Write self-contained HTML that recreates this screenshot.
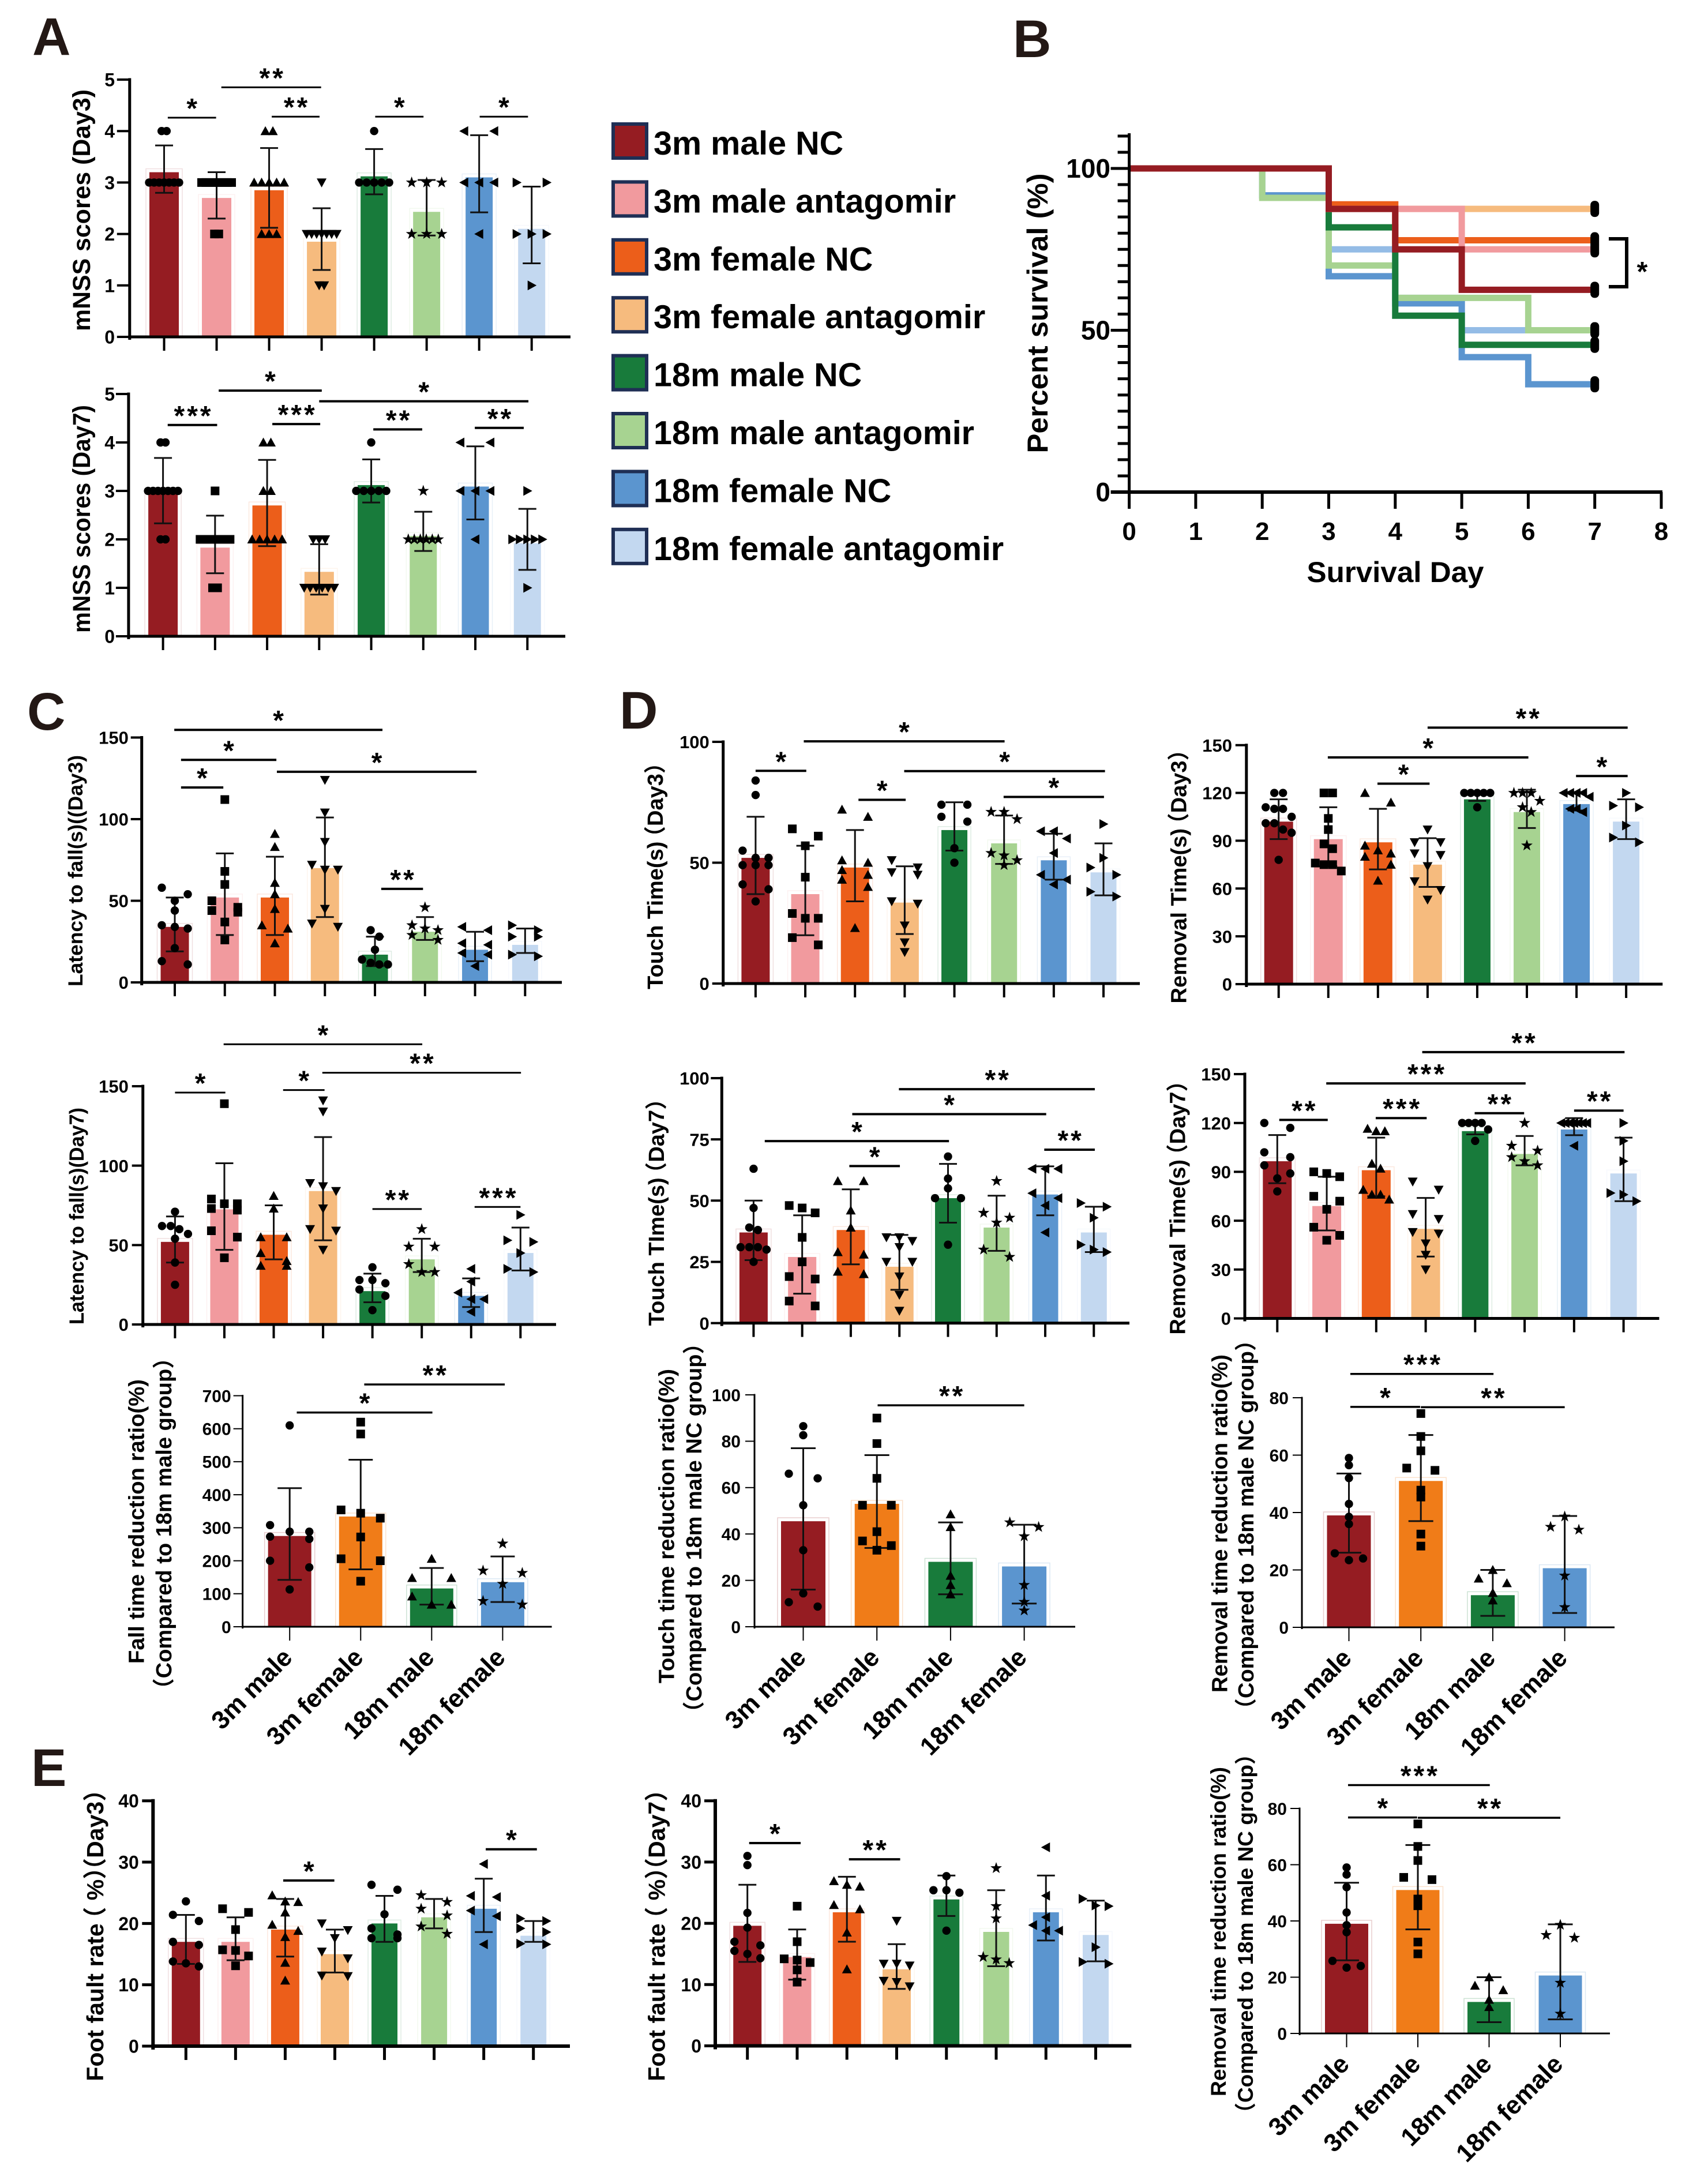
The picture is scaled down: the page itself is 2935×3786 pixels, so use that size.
<!DOCTYPE html>
<html lang="en">
<head>
<meta charset="utf-8">
<title>Multi-panel behavioural figure</title>
<style>
html,body{margin:0;padding:0;background:#fff;}
svg{display:block;}
text{font-family:"Liberation Sans","Noto Sans CJK SC",sans-serif;font-weight:700;fill:#000;}
.panel{fill:#231815;font-size:92px;}
.legend{font-size:57.5px;}
</style>
</head>
<body>
<svg id="fig" xmlns="http://www.w3.org/2000/svg" width="2935" height="3786" viewBox="0 0 2935 3786">
  <rect x="0" y="0" width="2935" height="3786" fill="#fff"/>
  <text class="panel" x="56" y="95">A</text>
  <text class="panel" x="1756" y="99">B</text>
  <text class="panel" x="47" y="1265">C</text>
  <text class="panel" x="1074" y="1263">D</text>
  <text class="panel" x="54" y="3096">E</text>

  <g>
    <g>
      <rect x="1063" y="215" width="58" height="59" fill="#951C22" stroke="#1F2F55" stroke-width="6"/>
      <text class="legend" x="1133" y="268">3m male NC</text>
    </g>
    <g>
      <rect x="1063" y="315.4" width="58" height="59" fill="#F19A9E" stroke="#1F2F55" stroke-width="6"/>
      <text class="legend" x="1133" y="368.4">3m male antagomir</text>
    </g>
    <g>
      <rect x="1063" y="415.8" width="58" height="59" fill="#EC5E1A" stroke="#1F2F55" stroke-width="6"/>
      <text class="legend" x="1133" y="468.8">3m female NC</text>
    </g>
    <g>
      <rect x="1063" y="516.2" width="58" height="59" fill="#F6BB7E" stroke="#1F2F55" stroke-width="6"/>
      <text class="legend" x="1133" y="569.2">3m female antagomir</text>
    </g>
    <g>
      <rect x="1063" y="616.6" width="58" height="59" fill="#187B3B" stroke="#1F2F55" stroke-width="6"/>
      <text class="legend" x="1133" y="669.6">18m male NC</text>
    </g>
    <g>
      <rect x="1063" y="717" width="58" height="59" fill="#A7D391" stroke="#1F2F55" stroke-width="6"/>
      <text class="legend" x="1133" y="770">18m male antagomir</text>
    </g>
    <g>
      <rect x="1063" y="817.4" width="58" height="59" fill="#5B95CF" stroke="#1F2F55" stroke-width="6"/>
      <text class="legend" x="1133" y="870.4">18m female NC</text>
    </g>
    <g>
      <rect x="1063" y="917.8" width="58" height="59" fill="#C3D8F0" stroke="#1F2F55" stroke-width="6"/>
      <text class="legend" x="1133" y="970.8">18m female antagomir</text>
    </g>
  </g>
</svg>

<script>
// ---------- shared categories ----------
const fourGroupLabels = ['3m male', '3m female', '18m male', '18m female'];

// ---------- A: mNSS day 3 ----------
const a1Ticks = [0, 1, 2, 3, 4, 5];
const a1Means = [3.2, 2.7, 2.85, 1.85, 3.12, 2.43, 3.1, 2.1];
const a1Hi = [3.72, 3.2, 3.67, 2.5, 3.65, 3.05, 3.92, 2.92];
const a1Lo = [2.8, 2.3, 2.12, 1.3, 2.77, 1.97, 2.42, 1.43];
const a1Points = [
  [4,4,3,3,3,3,3,3,3],
  [3,3,3,3,3,3,3,3,2,2],
  [4,4,3,3,3,3,3,2,2,2],
  [3,2,2,2,2,2,2,2,1,1],
  [4,3,3,3,3,3],
  [3,3,3,2,2,2],
  [4,4,3,3,3,2],
  [3,3,2,2,2,1]
];
const a1Brackets = [[0.07,0.99,4.26,'*'],[1.09,2.99,4.85,'**'],[2.05,2.96,4.28,'**'],[4.02,4.94,4.28,'*'],[6.01,6.93,4.28,'*']];

// ---------- A: mNSS day 7 ----------
const a2Ticks = [0, 1, 2, 3, 4, 5];
const a2Means = [2.95, 1.83, 2.7, 1.33, 3.12, 2.07, 3.09, 1.92];
const a2Hi = [3.68, 2.49, 3.64, 1.9, 3.65, 2.57, 3.92, 2.63];
const a2Lo = [2.33, 1.3, 1.86, 0.86, 2.76, 1.76, 2.41, 1.37];
const a2Points = [
  [4,4,3,3,3,3,3,3,3,2,2],
  [3,2,2,2,2,2,2,2,1,1],
  [4,4,3,3,2,2,2,2,2],
  [2,2,2,1,1,1,1,1,1],
  [4,3,3,3,3,3],
  [3,2,2,2,2,2,2],
  [4,4,3,3,3,2],
  [3,2,2,2,2,2,1]
];
const a2Brackets = [[0.09,1.04,4.36,'***'],[1.07,3.05,5.07,'*'],[2.1,3.02,4.38,'***'],[3,7.02,4.85,'*'],[4.04,4.98,4.27,'**'],[5.99,6.93,4.3,'**']];

// ---------- C: latency day 3 ----------
const c1Ticks = [0, 50, 100, 150];
const c1Means = [34, 52, 52, 70, 17, 31, 20, 23];
const c1Hi = [52, 79, 77, 101, 28, 40, 31, 33];
const c1Lo = [19, 29, 29, 40, 10, 26, 13, 18];
const c1Points = [
  [58,54,50,44,35,34,33,21,13,11],
  [112,68,60,50,46,44,43,37,26],
  [91,83,61,54,45,35,33,24],
  [124,104,86,72,69,69,45,36,34],
  [32,28,20,14,12,11,11],
  [46,35,33,32,29,26],
  [34,32,24,23,18,17,10],
  [35,32,28,28,17,16]
];
const c1Brackets = [[-0.01,4.15,154.7,'*'],[0.125,2.03,136.3,'*'],[0.125,0.97,119.4,'*'],[2.04,6.03,129,'*'],[4.125,4.96,57.3,'**']];

// ---------- C: latency day 7 ----------
const c2Ticks = [0, 50, 100, 150];
const c2Means = [52, 72.5, 56.5, 84, 21, 41, 18, 45];
const c2Hi = [68, 101.5, 75, 118, 32, 54, 29, 61];
const c2Lo = [39, 47, 41, 53, 14, 33, 11, 34];
const c2Points = [
  [71,62,62,60,57,54,39,25],
  [139,79,76,76,73,72,59,55,42],
  [81,73,55,55,45,40,37,37],
  [141,134,89,87,84,73,60,59,47],
  [36,28,28,26,22,18,9],
  [60,49,49,38,33,33],
  [35,27,20,16,16,8],
  [69,53,52,45,35,33]
];
const c2Brackets = [[0.985,5.01,176.4,'*'],[2.985,7.01,158.5,'**'],[0,1.02,146,'*'],[2.19,3.03,147.6,'*'],[4,5,72.7,'**'],[6.07,7,74,'***']];

// ---------- D: touch time day 3 ----------
const d1Ticks = [0, 50, 100];
const d1Means = [52, 37, 48, 33.5, 63.5, 58, 51, 46];
const d1Hi = [69, 57, 63.5, 48.5, 75, 69.5, 62, 58];
const d1Lo = [37, 20, 34, 20.5, 55, 49.5, 43, 36.5];
const d1Points = [
  [84,78,55,52,52,49,49,49,41,39,34],
  [64,61,57,44,29,27,27,19,16],
  [72,69,51,50,47,45,43,40,23],
  [51,48,46,45,34,33,24,17,13],
  [74,74,69,67,56,50],
  [71,71,68,54,53,51,49],
  [63,63,60,54,45,43,41],
  [66,52,48,45,38,36]
];
const d1Brackets = [[0,1.02,88,'*'],[0.97,5.01,100.2,'*'],[2.07,3.02,76,'*'],[2.99,7.03,87.9,'*'],[4.99,7.01,77.2,'*']];

// ---------- D: touch time day 7 ----------
const d2Ticks = [0, 25, 50, 75, 100];
const d2Means = [37, 27, 38, 23, 51, 39, 52.5, 37];
const d2Hi = [50, 44, 54.6, 36, 65, 52, 64, 47.5];
const d2Lo = [25.7, 12, 24, 13.6, 41, 29.5, 44, 29];
const d2Points = [
  [63,47,39,38,31,31,31,30,25],
  [48,47,45,35,25,19,18,9,7],
  [58,58,46,39,29,28,21,20],
  [35,35,33.5,31,25,25,19,11.5,5],
  [68,59,55,51,51,32],
  [58,45,43,41,30,27],
  [63,63,63,53,51,48,37],
  [49,47.5,43,32,30,29]
];
const d2Brackets = [[2.99,7.02,95.5,'**'],[2.03,6.02,85.3,'*'],[0.23,4.02,74.3,'*'],[1.97,3.01,64.1,'*'],[5.98,7.02,70.8,'**']];

// ---------- D: removal time day 3 ----------
const d3Ticks = [0, 30, 60, 90, 120, 150];
const d3Means = [102, 91, 89, 75, 116, 108, 113, 102];
const d3Hi = [116, 111, 110, 91.6, 120, 122, 120.5, 116];
const d3Lo = [91, 74, 72, 61, 115, 98, 109, 91];
const d3Points = [
  [120,120,111,110,110,105,101,101,97,95,78],
  [120,120,104,97,88,85,76,75,75,71],
  [120,114,87,84,82,80,75,65],
  [97,89,89,82,81,74,64.5,59,53],
  [120,120,120,120,120,111],
  [120,120,120,115,111,108,87],
  [120,120,120,120,117.6,110,110,108],
  [120,112,111,99.5,92,89]
];
const d3Brackets = [[3,7.03,161,'**'],[0.99,5.03,142.3,'*'],[1.99,3.04,125.8,'*'],[5.99,7.03,130.6,'*']];

// ---------- D: removal time day 7 ----------
const d4Ticks = [0, 30, 60, 90, 120, 150];
const d4Means = [96.5, 69, 91, 55, 115, 101, 116, 89];
const d4Hi = [112.6, 87, 111, 74, 121, 112, 123, 111];
const d4Lo = [83, 54, 75, 38, 113, 94, 112.5, 72];
const d4Points = [
  [120,117,102,99,94,89,86,78],
  [90,89,87,75,72,67,56,51,48],
  [116.5,115,115,95,92,79,76,76,73],
  [84,79,64,61,53,52,46,39,30],
  [120,120,120,120,116,109],
  [120,106,103,99,96.5,94],
  [120,120,120,120,120,120,120,106],
  [120,109,96.5,77,76,72]
];
const d4Brackets = [[2.93,7.02,163.5,'**'],[0.99,5.02,144.3,'***'],[0.04,1.02,121.9,'**'],[1.99,3.02,123,'***'],[3.99,4.99,126,'**'],[6,7,127.6,'**']];

// ---------- C: fall time reduction ratio ----------
const fallTicks = [0, 100, 200, 300, 400, 500, 600, 700];
const fallMeans = [275, 334, 116, 135];
const fallHi = [420, 506, 178, 213];
const fallLo = [142, 174, 67, 75];
const fallPoints = [
  [610,308,288,288,273,266,200,180,113],
  [620,584,354,344,329,272,206,200,138],
  [206,148,148,92,67,67],
  [252,170,163,130,78,67]
];
const fallBrackets = [[0.1,2.01,649,'*'],[1.05,3.03,734,'**']];

// ---------- D: touch time reduction ratio ----------
const touchTicks = [0, 20, 40, 60, 80, 100];
const touchMeans = [45.5, 53, 28, 26];
const touchHi = [77, 74, 45, 44];
const touchLo = [16, 34, 14, 10];
const touchPoints = [
  [86.5,82.6,66,64,52.4,33,14.4,10.6,8.7],
  [90,79,64,52.4,52.4,41,37,35,33],
  [48.5,43,22,18,14],
  [45,43,39,18,10.7,7]
];
const touchBrackets = [[1.01,3,95.5,'**']];

// ---------- D/E: removal time reduction ratio ----------
const removalTicks = [0, 20, 40, 60, 80];
const removalMeans = [39, 51, 11.2, 20.6];
const removalHi = [53.6, 67, 20, 38.8];
const removalLo = [26, 37, 4, 5];
const removalPoints = [
  [59,56.5,52,43,38.5,36,25.8,24,23.4],
  [74.5,66.5,61.5,55.5,54.7,47.8,45.4,32.5,28.3],
  [20,17,15.4,12,9.4],
  [38.6,35,34,18,7]
];
const removalBrackets = [[0.02,2.01,88.3,'***'],[0.02,0.99,76.8,'*'],[1,3,76.7,'**']];

// ---------- E: foot fault day 3 ----------
const e1Ticks = [0, 10, 20, 30, 40];
const e1Means = [17, 17, 19, 15, 20, 21, 22.4, 18];
const e1Hi = [21.4, 21, 24, 19, 24.5, 24, 27.3, 20.4];
const e1Lo = [13.4, 14, 14.6, 12, 17, 19.2, 18.6, 17];
const e1Points = [
  [23.6,21.4,20.4,17,16.5,13.8,13.5,13],
  [22.4,21.8,19,15.7,15.6,14.7,13.1],
  [24.6,23.6,23.5,21.8,19.8,18.8,17.8,13.6,10.7],
  [20,18.9,17.6,15.4,14.3,11.5,11.4],
  [26.3,25.5,21.5,19.2,18.2,17.6,17.6],
  [24.6,23.5,22.4,21.3,19.5,18.3],
  [29.7,24.5,24.3,22.1,21.2,16.6],
  [20.8,20.4,19.2,18.6,16.7,16.6]
];
const e1Brackets = [[1.96,2.99,27,'*'],[6.04,7.07,32.1,'*']];

// ---------- E: foot fault day 7 ----------
const e2Ticks = [0, 10, 20, 30, 40];
const e2Means = [19.6, 14.5, 21.8, 12.5, 23.9, 18.6, 21.8, 18.1];
const e2Hi = [26.3, 19, 27.6, 16.6, 27.8, 25.4, 27.8, 23.7];
const e2Lo = [13.7, 10.8, 17, 9.3, 21.2, 13, 17.2, 13.8];
const e2Points = [
  [31,29.5,21.7,19.3,17,16.4,15.5,15,14.3],
  [22.8,17,14.2,14,13.6,12.4,10.4],
  [26.9,26.3,26,23,22.3,18.5,12.5],
  [20.4,13.4,13.4,13.1,10.6,10.4,9.7],
  [27.7,25.4,25.4,25,18.8],
  [29,22.8,20.8,14.5,14.1,13.5],
  [32.4,24.5,21,19.7,18.8,18.8],
  [24,22.9,22.8,16.1,13.7,13.4]
];
const e2Brackets = [[0.035,1.07,33.1,'*'],[2.04,3.07,30.45,'**']];

// ---------- B: survival ----------
const kmDays = [0, 2, 3, 4, 5, 6, 7];
const kmXTicks = [0, 1, 2, 3, 4, 5, 6, 7, 8];
const kmYTicks = [0, 50, 100];
const kmLightBlue = [100, 100, 75, 60, 50, 50, 50];
const kmBlue = [100, 91.7, 66.7, 58.3, 41.7, 33.3, 33.3];
const kmLightGreen = [100, 90.9, 70, 60, 60, 50, 50];
const kmGreen = [100, 100, 81.8, 54.5, 45.5, 45.5, 45.5];
const kmLightOrange = [100, 100, 87.5, 87.5, 87.5, 87.5, 87.5];
const kmOrange = [100, 100, 88.9, 77.8, 77.8, 77.8, 77.8];
const kmPink = [100, 100, 87.5, 87.5, 75, 75, 75];
const kmRed = [100, 100, 87.5, 75, 62.5, 62.5, 62.5];

// ---------- styling & layout (not data) ----------
const eightColors = ['#951C22','#F19A9E','#EC5E1A','#F6BB7E','#187B3B','#A7D391','#5B95CF','#C3D8F0'];
const eightShapes = ['circle','square','up','down','circle','star','left','right'];
const fourColors = ['#951C22','#F07C18','#187B3B','#5B95CF'];
const fourShapes = ['circle','square','up','star'];
const seriesNames = ['3m-male-nc','3m-male-antagomir','3m-female-nc','3m-female-antagomir','18m-male-nc','18m-male-antagomir','18m-female-nc','18m-female-antagomir'];

const charts = [
 {name:'mnss-day3',means:a1Means,hi:a1Hi,lo:a1Lo,points:a1Points,ticks:a1Ticks,brackets:a1Brackets,max:5,axisX:224.8,y0:584,yTop:138,xFirst:284.5,xStep:91.03,barW:51,right:989,lw:5,tick:22,labelX:199,font:32,bin:0.2,swarm:52,cap:31,bracketW:3,
  titles:[{text:'mNSS scores (Day3)',x:140.3,a:155,b:574,size:43}]},
 {name:'mnss-day7',means:a2Means,hi:a2Hi,lo:a2Lo,points:a2Points,ticks:a2Ticks,brackets:a2Brackets,max:5,axisX:222.9,y0:1103,yTop:683,xFirst:282.6,xStep:90.24,barW:51,right:980,lw:5,tick:22,labelX:199,font:32,bin:0.2,swarm:52,cap:31,bracketW:4,
  titles:[{text:'mNSS scores (Day7)',x:140.3,a:702,b:1097,size:43}]},
 {name:'latency-day3',means:c1Means,hi:c1Hi,lo:c1Lo,points:c1Points,ticks:c1Ticks,brackets:c1Brackets,max:150,axisX:245.7,y0:1703,yTop:1278.5,xFirst:303,xStep:86.76,barW:49,right:974,lw:5,tick:19,labelX:222.9,font:31,bin:5,swarm:45,cap:31,bracketW:4,
  titles:[{text:'Latency to fall(s)((Day3)',x:130.3,a:1309,b:1710,size:35}]},
 {name:'latency-day7',means:c2Means,hi:c2Hi,lo:c2Lo,points:c2Points,ticks:c2Ticks,brackets:c2Brackets,max:150,axisX:247.7,y0:2296,yTop:1883,xFirst:303.4,xStep:85.56,barW:49,right:964,lw:5,tick:19,labelX:222.9,font:31,bin:5,swarm:45,cap:31,bracketW:3,
  titles:[{text:'Latency to fall(s)(Day7)',x:132.3,a:1920,b:2296,size:35}]},
 {name:'touch-time-day3',means:d1Means,hi:d1Hi,lo:d1Lo,points:d1Points,ticks:d1Ticks,brackets:d1Brackets,max:100,axisX:1253.7,y0:1705,yTop:1286,xFirst:1309.9,xStep:86.16,barW:49,right:1976,lw:5,tick:19,labelX:1229.8,font:31,bin:3,swarm:45,cap:31,bracketW:4,
  titles:[{text:'Touch Time(s)（Day3）',x:1135.3,a:1317,b:1720,size:38}]},
 {name:'touch-time-day7',means:d2Means,hi:d2Hi,lo:d2Lo,points:d2Points,ticks:d2Ticks,brackets:d2Brackets,max:100,axisX:1251.3,y0:2293.6,yTop:1869,xFirst:1306.4,xStep:84.27,barW:49,right:1958,lw:5,tick:19,labelX:1229.8,font:31,bin:3,swarm:45,cap:31,bracketW:4,
  titles:[{text:'Touch TIme(s)（Day7）',x:1137.3,a:1898,b:2305,size:38}]},
 {name:'removal-time-day3',means:d3Means,hi:d3Hi,lo:d3Lo,points:d3Points,ticks:d3Ticks,brackets:d3Brackets,max:150,axisX:2160.8,y0:1706,yTop:1291.7,xFirst:2216.7,xStep:86.06,barW:50,right:2882.3,lw:5,tick:19,labelX:2136,font:31,bin:6,swarm:45,cap:31,bracketW:4,
  titles:[{text:'Removal Time(s)（Day3）',x:2042.6,a:1296,b:1743,size:38}]},
 {name:'removal-time-day7',means:d4Means,hi:d4Hi,lo:d4Lo,points:d4Points,ticks:d4Ticks,brackets:d4Brackets,max:150,axisX:2158,y0:2285.5,yTop:1862,xFirst:2214.3,xStep:85.76,barW:50,right:2876.4,lw:5,tick:19,labelX:2134,font:31,bin:6,swarm:45,cap:31,bracketW:4,
  titles:[{text:'Removal Time(s)（Day7）',x:2040.6,a:1867,b:2320,size:38}]},
 {name:'fall-time-ratio',four:true,means:fallMeans,hi:fallHi,lo:fallLo,points:fallPoints,ticks:fallTicks,brackets:fallBrackets,max:700,axisX:420.6,y0:2820,yTop:2419.5,xFirst:502.2,xStep:123.07,barW:75,right:956.6,lw:3,tick:16,labelX:400.7,font:30,bin:25,swarm:68,cap:42,bracketW:3.5,
  titles:[{text:'Fall time reduction ratio(%)',x:236,a:2391,b:2884,size:38},{text:'（Compared to 18m male group）',x:283.3,a:2356,b:2926,size:38}]},
 {name:'touch-time-ratio',four:true,means:touchMeans,hi:touchHi,lo:touchLo,points:touchPoints,ticks:touchTicks,brackets:touchBrackets,max:100,axisX:1308,y0:2820,yTop:2418,xFirst:1392.5,xStep:127.7,barW:77,right:1864,lw:3,tick:16,labelX:1284,font:30,bin:3,swarm:50,cap:43,bracketW:3.5,
  titles:[{text:'Touch time reduction ratio(%)',x:1154.7,a:2373,b:2918,size:38},{text:'（Compared to 18m male NC group）',x:1202.5,a:2330,b:2967,size:38}]},
 {name:'removal-time-ratio-upper',four:true,means:removalMeans,hi:removalHi,lo:removalLo,points:removalPoints,ticks:removalTicks,brackets:removalBrackets,max:80,axisX:2257,y0:2821,yTop:2423,xFirst:2338.5,xStep:124.7,barW:76,right:2799,lw:3,tick:16,labelX:2234,font:30,bin:2,swarm:49,cap:43,bracketW:3.5,
  titles:[{text:'Removal time reduction ratio(%)',x:2113.7,a:2348,b:2934,size:38},{text:'（Compared to 18m male NC group）',x:2159.4,a:2326,b:2960,size:38}]},
 {name:'removal-time-ratio-lower',four:true,means:removalMeans,hi:removalHi,lo:removalLo,points:removalPoints,ticks:removalTicks,brackets:removalBrackets,max:80,axisX:2253,y0:3525,yTop:3135,xFirst:2334.5,xStep:123.5,barW:75,right:2791,lw:3,tick:16,labelX:2231,font:30,bin:2,swarm:49,cap:43,bracketW:3.5,
  titles:[{text:'Removal time reduction ratio(%)',x:2111.6,a:3063,b:3634,size:37},{text:'（Compared to 18m male NC group）',x:2158.9,a:3043,b:3661,size:37}]},
 {name:'foot-fault-day3',means:e1Means,hi:e1Hi,lo:e1Lo,points:e1Points,ticks:e1Ticks,brackets:e1Brackets,max:40,axisX:265.3,y0:3547,yTop:3121.7,xFirst:322.3,xStep:86.06,barW:49,right:988,lw:6,tick:19,labelX:240.8,font:32,bin:1.3,swarm:45,cap:31,bracketW:4,
  titles:[{text:'Foot fault rate（ %）（Day3）',x:164.2,a:3095,b:3615,size:41}]},
 {name:'foot-fault-day7',means:e2Means,hi:e2Hi,lo:e2Lo,points:e2Points,ticks:e2Ticks,brackets:e2Brackets,max:40,axisX:1240,y0:3546.5,yTop:3121.7,xFirst:1295.7,xStep:86.26,barW:49,right:1961.3,lw:6,tick:19,labelX:1216,font:32,bin:1.3,swarm:45,cap:31,bracketW:4,
  titles:[{text:'Foot fault rate（ %）（Day7）',x:1137.6,a:3095,b:3615,size:41}]}
];

// ---------- helpers ----------
const NS = 'http://www.w3.org/2000/svg';
const fig = document.getElementById('fig');

function svgEl(parent, tag, attrs) {
  const el = document.createElementNS(NS, tag);
  for (const k in attrs) el.setAttribute(k, attrs[k]);
  parent.appendChild(el);
  return el;
}

function swarmOffsets(values, binW, width) {
  const sorted = values.slice().sort(function (a, b) { return b - a; });
  const bins = [];
  sorted.forEach(function (v) {
    const last = bins[bins.length - 1];
    if (last && last[0] - v <= binW) last.push(v); else bins.push([v]);
  });
  let maxN = 1;
  bins.forEach(function (b) { maxN = Math.max(maxN, b.length); });
  const step = maxN > 1 ? width / (maxN - 1) : 0;
  const out = [];
  bins.forEach(function (b) {
    b.forEach(function (v, i) {
      let off = (i - (b.length - 1) / 2) * step;
      if (b.length === 2 && maxN === 3) off = (i === 0 ? -1 : 1) * step;
      out.push({ v: v, off: off });
    });
  });
  return out;
}

function markerShape(parent, shape, cx, cy) {
  let el;
  if (shape === 'circle') {
    el = svgEl(parent, 'circle', { cx: cx, cy: cy, r: 7.2, fill: '#000' });
  } else if (shape === 'square') {
    el = svgEl(parent, 'rect', { x: cx - 7.5, y: cy - 7.5, width: 15, height: 15, fill: '#000' });
  } else {
    let pts;
    if (shape === 'up') pts = [[0, -8.5], [8.5, 7], [-8.5, 7]];
    else if (shape === 'down') pts = [[0, 8.5], [8.5, -7], [-8.5, -7]];
    else if (shape === 'left') pts = [[-8.5, 0], [7, -8.5], [7, 8.5]];
    else if (shape === 'right') pts = [[8.5, 0], [-7, -8.5], [-7, 8.5]];
    else {
      pts = [];
      for (let i = 0; i < 10; i++) {
        const r = i % 2 ? 4.2 : 10.5;
        const a = -Math.PI / 2 + i * Math.PI / 5;
        pts.push([r * Math.cos(a), r * Math.sin(a)]);
      }
    }
    el = svgEl(parent, 'polygon', {
      points: pts.map(function (p) { return (cx + p[0]) + ',' + (cy + p[1]); }).join(' '),
      fill: '#000'
    });
  }
  return el;
}

// ---------- bar charts ----------
function drawBarChart(c) {
  const g = svgEl(fig, 'g', {});
  
  

  const yScale = function (v) { return c.y0 - (v / c.max) * (c.y0 - c.yTop); };
  const xScale = function (i) { return c.xFirst + i * c.xStep; };
  const colors = c.four ? fourColors : eightColors;
  const shapes = c.four ? fourShapes : eightShapes;

  // bars (frame + fill)
  c.means.forEach(function (m, i) {
    const w = (!c.four && i >= 4) ? c.barW - 4 : c.barW;
    const frame = svgEl(g, 'rect', {
      x: xScale(i) - w / 2 - 6, y: yScale(m) - 6, width: w + 12, height: c.y0 - yScale(m) + 6,
      fill: '#fff', stroke: colors[i], 'stroke-opacity': c.four ? 0.22 : 0.14, 'stroke-width': 1.5
    });
    
    
    const bar = svgEl(g, 'rect', {
      x: xScale(i) - w / 2, y: yScale(m), width: w, height: c.y0 - yScale(m), fill: colors[i]
    });
    
    
  });

  // error bars
  c.means.forEach(function (m, i) {
    const x = xScale(i);
    const err = svgEl(g, 'path', {
      d: 'M' + x + ' ' + yScale(c.hi[i]) + 'V' + yScale(c.lo[i]) +
         'M' + (x - c.cap / 2) + ' ' + yScale(c.hi[i]) + 'H' + (x + c.cap / 2) +
         'M' + (x - c.cap / 2) + ' ' + yScale(c.lo[i]) + 'H' + (x + c.cap / 2),
      stroke: '#111', 'stroke-width': 3, fill: 'none'
    });
    
    
  });

  // points
  c.points.forEach(function (vals, i) {
    swarmOffsets(vals, c.bin, c.swarm).forEach(function (p) {
      const mk = markerShape(g, shapes[i], xScale(i) + p.off, yScale(p.v));
      
      
    });
  });

  // axes
  const yAxis = svgEl(g, 'line', { x1: c.axisX, x2: c.axisX, y1: c.yTop - c.lw / 2, y2: c.y0 + c.lw, stroke: '#000', 'stroke-width': c.lw });
  
  
  const xAxis = svgEl(g, 'line', { x1: c.axisX - c.lw / 2, x2: c.right, y1: c.y0, y2: c.y0, stroke: '#000', 'stroke-width': c.lw });
  
  

  c.ticks.forEach(function (t) {
    const tk = svgEl(g, 'line', { x1: c.axisX - c.tick, x2: c.axisX, y1: yScale(t), y2: yScale(t), stroke: '#000', 'stroke-width': c.lw - 1 });
    
    
    const lab = svgEl(g, 'text', { x: c.labelX, y: yScale(t) + c.font * 0.36, 'text-anchor': 'end', 'font-size': c.font });
    
    
    lab.textContent = t;
  });

  c.means.forEach(function (m, i) {
    const tk = svgEl(g, 'line', { x1: xScale(i), x2: xScale(i), y1: c.y0, y2: c.y0 + 24, stroke: '#000', 'stroke-width': c.lw - 1 });
    
    
  });

  if (c.four) {
    fourGroupLabels.forEach(function (label, i) {
      const ax = xScale(i) + 7;
      const ay = c.y0 + 56;
      const t = svgEl(g, 'text', { x: ax, y: ay, 'text-anchor': 'end', 'font-size': 44, transform: 'rotate(-45 ' + ax + ' ' + ay + ')' });
      
      
      t.textContent = label;
    });
  }

  // axis titles
  c.titles.forEach(function (tt) {
    let cy = (tt.a + tt.b) / 2;
    const bx = tt.x + tt.size * 0.36;
    const hasWide = tt.text.indexOf('（') >= 0;
    const attrs = { x: bx, 'text-anchor': 'middle', 'font-size': tt.size };
    if (hasWide) {
      // full-width brackets carry half an em of blank space: tighten them
      const k = 0.3 * tt.size;
      const chars = tt.text.split('');
      attrs.dx = chars.map(function (ch, i) {
        let d = 0;
        if (ch === '（' && i > 0) d -= k;
        if (i > 0 && chars[i - 1] === '）') d -= k;
        return d;
      }).join(' ');
      if (tt.text.charAt(0) !== '（') cy -= 0.25 * tt.size;
    } else {
      attrs.textLength = tt.b - tt.a;
      attrs.lengthAdjust = 'spacingAndGlyphs';
    }
    attrs.y = cy;
    attrs.transform = 'rotate(-90 ' + bx + ' ' + cy + ')';
    const t = svgEl(g, 'text', attrs);
    
    
    t.textContent = tt.text;
  });

  // significance brackets
  c.brackets.forEach(function (b) {
    const y = yScale(b[2]);
    const ln = svgEl(g, 'line', { x1: xScale(b[0]), x2: xScale(b[1]), y1: y, y2: y, stroke: '#000', 'stroke-width': c.bracketW });
    
    
    const st = svgEl(g, 'text', {
      x: (xScale(b[0]) + xScale(b[1])) / 2 + 2, y: y, 'text-anchor': 'middle',
      'font-size': 48, 'letter-spacing': 4
    });
    
    
    st.textContent = b[3];
  });
}
charts.forEach(drawBarChart);

// ---------- survival chart ----------
(function drawSurvival() {
  const g = svgEl(fig, 'g', {});
  
  

  const x = function (d) { return 1957.6 + d * 115.3; };
  const y = function (p) { return 853 - p * 5.61; };

  const series = [
    { name: '18m-female-antagomir', vals: kmLightBlue, color: '#94BCE6' },
    { name: '18m-female-nc', vals: kmBlue, color: '#5B95CF' },
    { name: '18m-male-antagomir', vals: kmLightGreen, color: '#A7D391' },
    { name: '18m-male-nc', vals: kmGreen, color: '#187B3B' },
    { name: '3m-female-antagomir', vals: kmLightOrange, color: '#F6BB7E' },
    { name: '3m-female-nc', vals: kmOrange, color: '#EC5E1A' },
    { name: '3m-male-antagomir', vals: kmPink, color: '#F19A9E' },
    { name: '3m-male-nc', vals: kmRed, color: '#951C22' }
  ];

  series.forEach(function (s) {
    let d = 'M' + x(kmDays[0]) + ' ' + y(s.vals[0]);
    for (let i = 1; i < kmDays.length; i++) {
      d += 'H' + x(kmDays[i]) + 'V' + y(s.vals[i]);
    }
    const line = svgEl(g, 'path', { d: d, fill: 'none', stroke: s.color, 'stroke-width': 11, 'stroke-linejoin': 'miter' });
    
    
  });

  series.forEach(function (s) {
    const last = s.vals[s.vals.length - 1];
    const endMark = svgEl(g, 'rect', { x: x(7) - 7.5, y: y(last) - 14, width: 15, height: 28, rx: 7, ry: 7, fill: '#000' });
    
    
  });

  const yAxis = svgEl(g, 'line', { x1: x(0), x2: x(0), y1: 231, y2: 856, stroke: '#000', 'stroke-width': 5 });
  
  
  const xAxis = svgEl(g, 'line', { x1: x(0) - 32, x2: x(8) + 2, y1: y(0), y2: y(0), stroke: '#000', 'stroke-width': 6 });
  
  

  for (let p = 5; p <= 110; p += 5) {
    const major = kmYTicks.indexOf(p) >= 0;
    const tk = svgEl(g, 'line', { x1: x(0) - (major ? 32 : 20), x2: x(0), y1: y(p), y2: y(p), stroke: '#000', 'stroke-width': 5 });
    
    
  }
  kmYTicks.forEach(function (t) {
    const lab = svgEl(g, 'text', { x: 1925, y: y(t) + 16, 'text-anchor': 'end', 'font-size': 46 });
    
    
    lab.textContent = t;
  });
  kmXTicks.forEach(function (t) {
    const tk = svgEl(g, 'line', { x1: x(t), x2: x(t), y1: y(0), y2: 882, stroke: '#000', 'stroke-width': 5 });
    
    
    const lab = svgEl(g, 'text', { x: x(t), y: 936, 'text-anchor': 'middle', 'font-size': 44 });
    
    
    lab.textContent = t;
  });

  const xTitle = svgEl(g, 'text', { x: 2419, y: 1009, 'text-anchor': 'middle', 'font-size': 50, textLength: 307, lengthAdjust: 'spacingAndGlyphs' });
  
  
  xTitle.textContent = 'Survival Day';

  const yTitle = svgEl(g, 'text', { x: 1816, y: 543, 'text-anchor': 'middle', 'font-size': 50, textLength: 485, lengthAdjust: 'spacingAndGlyphs', transform: 'rotate(-90 1816 543)' });
  
  
  yTitle.textContent = 'Percent survival (%)';

  const bracket = svgEl(g, 'path', { d: 'M2789 414H2820V497H2789', fill: 'none', stroke: '#000', 'stroke-width': 6 });
  
  
  const star = svgEl(g, 'text', { x: 2847, y: 487, 'text-anchor': 'middle', 'font-size': 48 });
  
  
  star.textContent = '*';
})();
</script>
</body>
</html>
